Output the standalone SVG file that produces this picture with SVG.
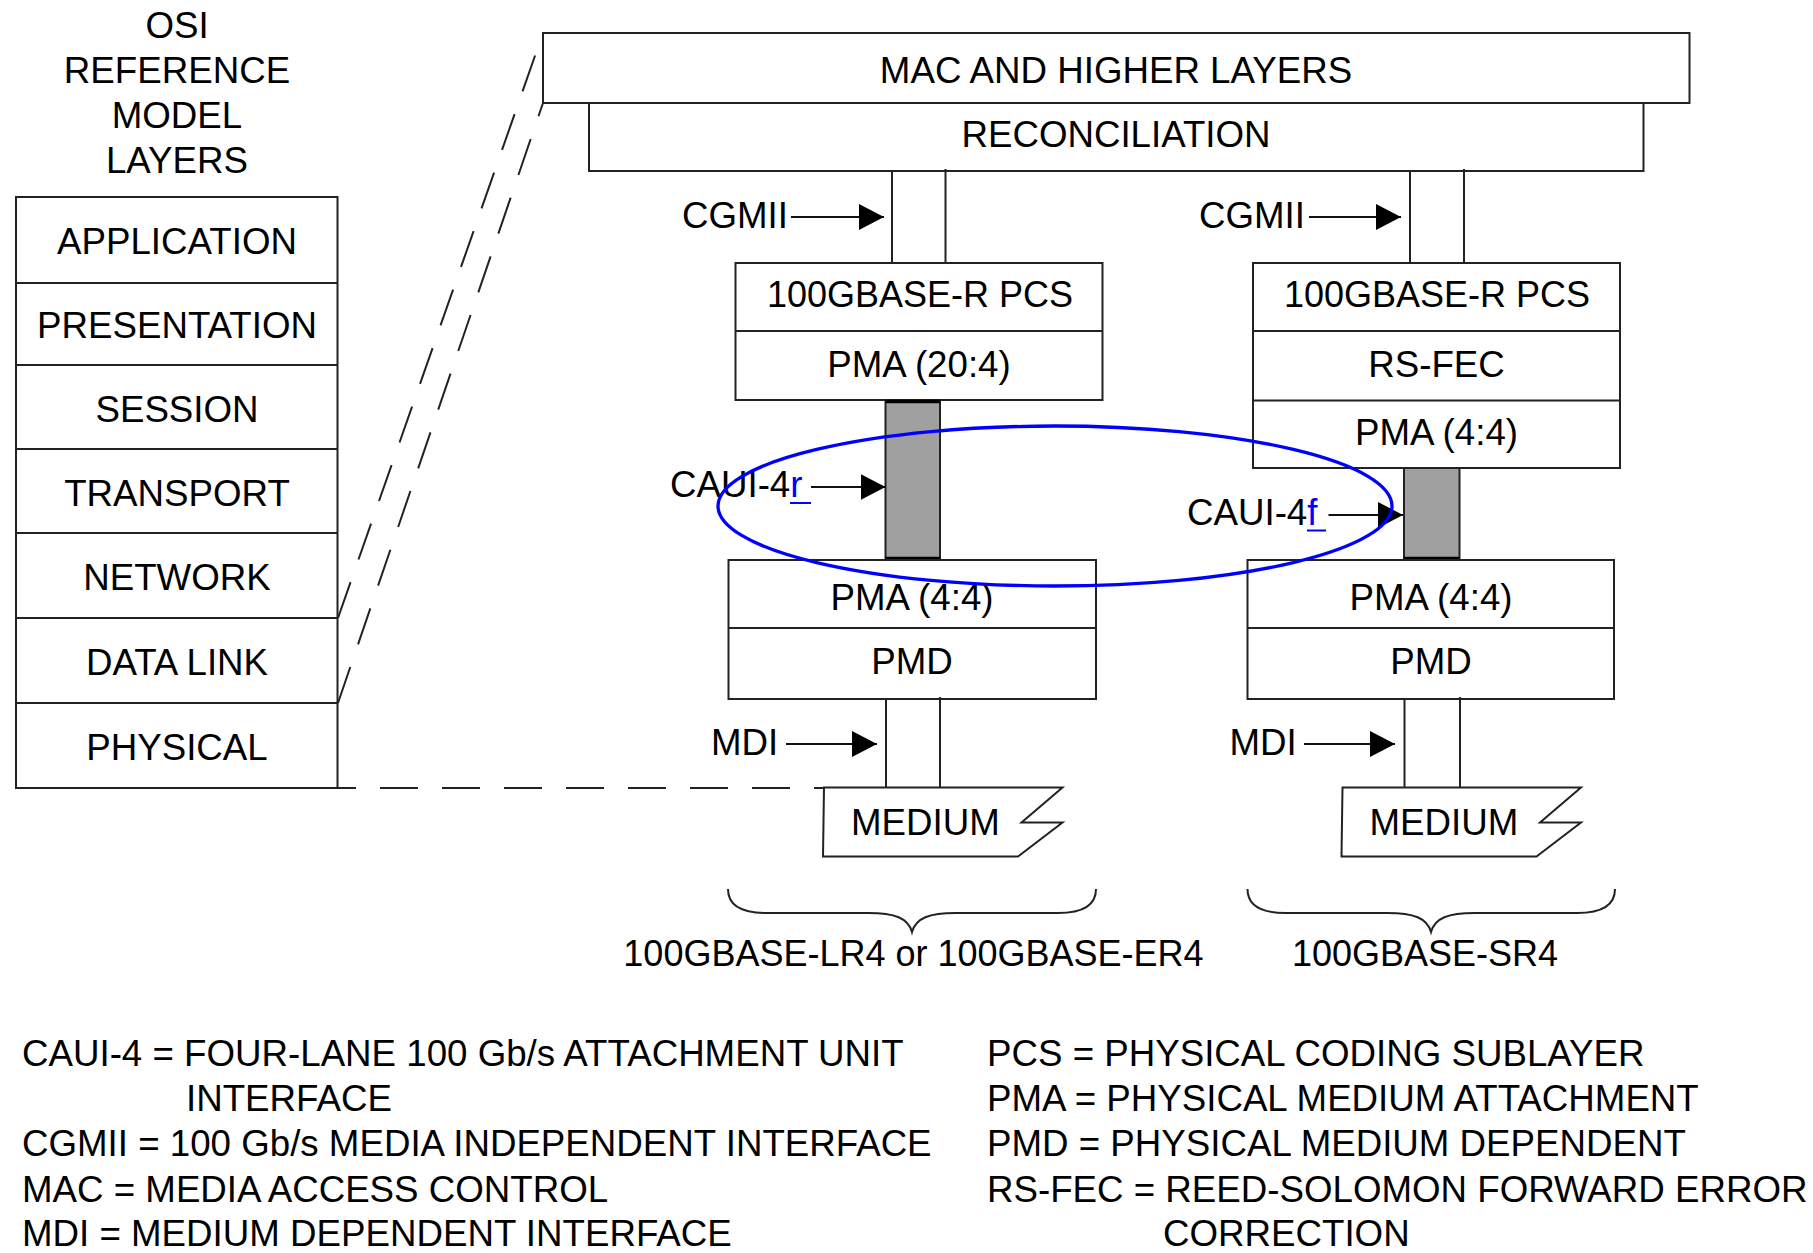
<svg xmlns="http://www.w3.org/2000/svg" width="1813" height="1253" viewBox="0 0 1813 1253">
<style>
text{font-family:"Liberation Sans",Arial,Helvetica,sans-serif;font-size:36.7px;fill:#000}
.c{text-anchor:middle}
.n{font-size:36px}
.box{fill:none;stroke:#222;stroke-width:2}
.ln{stroke:#222;stroke-width:2;fill:none}
.dash{stroke:#222;stroke-width:2;fill:none;stroke-dasharray:38 24}
.gray{fill:#a0a0a0;stroke:#222;stroke-width:2}
.edge{stroke:#000;stroke-width:3.5}
.arr{stroke:#111;stroke-width:2;fill:none;marker-end:url(#ah)}
.link{fill:#0000ff}
.ul{stroke:#0000ff;stroke-width:2}
</style>
<defs>
<marker id="ah" markerUnits="userSpaceOnUse" markerWidth="25" markerHeight="26" refX="25" refY="13" orient="auto">
<path d="M0,0 L25,13 L0,26 Z" fill="#000"/>
</marker>
</defs>
<rect width="1813" height="1253" fill="#fff"/>

<g id="osi-title">
<text class="c" x="177" y="38">OSI</text>
<text class="c" x="177" y="83">REFERENCE</text>
<text class="c" x="177" y="128">MODEL</text>
<text class="c" x="177" y="173">LAYERS</text>
</g>

<g id="osi-stack">
<rect class="box" x="16" y="197" width="321.5" height="591"/>
<line class="ln" x1="16" y1="283" x2="337.5" y2="283"/>
<line class="ln" x1="16" y1="365" x2="337.5" y2="365"/>
<line class="ln" x1="16" y1="449" x2="337.5" y2="449"/>
<line class="ln" x1="16" y1="533" x2="337.5" y2="533"/>
<line class="ln" x1="16" y1="618" x2="337.5" y2="618"/>
<line class="ln" x1="16" y1="703" x2="337.5" y2="703"/>
<text class="c" x="177" y="254">APPLICATION</text>
<text class="c" x="177" y="338">PRESENTATION</text>
<text class="c" x="177" y="422">SESSION</text>
<text class="c" x="177" y="506">TRANSPORT</text>
<text class="c" x="177" y="590">NETWORK</text>
<text class="c" x="177" y="675">DATA LINK</text>
<text class="c" x="177" y="760">PHYSICAL</text>
</g>

<g id="mac">
<rect class="box" x="543" y="33" width="1146.5" height="70"/>
<text class="c" x="1116" y="83">MAC AND HIGHER LAYERS</text>
</g>

<g id="reconciliation">
<rect class="box" x="589" y="103" width="1054.5" height="68"/>
<text class="c" x="1116" y="147">RECONCILIATION</text>
</g>

<g id="left-pcs">
<rect class="box" x="735.5" y="263" width="367" height="137"/>
<line class="ln" x1="735.5" y1="331" x2="1102.5" y2="331"/>
<text class="c n" x="920" y="307">100GBASE-R PCS</text>
<text class="c" x="919" y="377">PMA (20:4)</text>
</g>

<g id="right-pcs">
<rect class="box" x="1253" y="263" width="367" height="205"/>
<line class="ln" x1="1253" y1="331" x2="1620" y2="331"/>
<line class="ln" x1="1253" y1="400.5" x2="1620" y2="400.5"/>
<text class="c n" x="1437" y="307">100GBASE-R PCS</text>
<text class="c" x="1436.5" y="377">RS-FEC</text>
<text class="c" x="1436.5" y="445">PMA (4:4)</text>
</g>

<g id="caui-4r">
<rect class="gray" x="885.5" y="400" width="54.5" height="160"/>
<line class="edge" x1="885.5" y1="401.5" x2="940" y2="401.5"/>
<line class="edge" x1="885.5" y1="558.5" x2="940" y2="558.5"/>
</g>

<g id="caui-4f">
<rect class="gray" x="1404" y="468" width="55.5" height="92"/>
<line class="edge" x1="1404" y1="558.5" x2="1459.5" y2="558.5"/>
</g>

<g id="left-pmd">
<rect class="box" x="728.5" y="560" width="367.5" height="139"/>
<line class="ln" x1="728.5" y1="628" x2="1096" y2="628"/>
<text class="c" x="912" y="610">PMA (4:4)</text>
<text class="c" x="912" y="674">PMD</text>
</g>

<g id="right-pmd">
<rect class="box" x="1247.5" y="560" width="366.5" height="139"/>
<line class="ln" x1="1247.5" y1="628" x2="1614" y2="628"/>
<text class="c" x="1431" y="610">PMA (4:4)</text>
<text class="c" x="1431" y="674">PMD</text>
</g>

<g id="left-medium">
<path class="box" d="M824,787.5 L1062.5,787.5 L1021.5,822.5 L1062.5,822.5 L1018,856.5 L823,856.5 Z"/>
<text x="851" y="835">MEDIUM</text>
</g>

<g id="right-medium">
<path class="box" d="M1342.5,787.5 L1581,787.5 L1540,822.5 L1581,822.5 L1536.5,856.5 L1341.5,856.5 Z"/>
<text x="1369.5" y="835">MEDIUM</text>
</g>

<g id="connectors">
<line class="dash" x1="338" y1="618" x2="543" y2="33"/>
<line class="dash" x1="338" y1="703" x2="543" y2="103"/>
<line class="dash" x1="338" y1="788" x2="824" y2="788" stroke-dashoffset="20"/>
<line class="ln" x1="892" y1="171" x2="892" y2="263"/>
<line class="ln" x1="945.5" y1="169" x2="945.5" y2="263"/>
<line class="ln" x1="1410" y1="171" x2="1410" y2="263"/>
<line class="ln" x1="1464" y1="169" x2="1464" y2="263"/>
<line class="ln" x1="886" y1="699" x2="886" y2="787"/>
<line class="ln" x1="940" y1="697" x2="940" y2="787"/>
<line class="ln" x1="1404.5" y1="699" x2="1404.5" y2="787"/>
<line class="ln" x1="1460" y1="697" x2="1460" y2="787"/>
<line class="arr" x1="791" y1="217" x2="884" y2="217"/>
<line class="arr" x1="1309" y1="217" x2="1401" y2="217"/>
<line class="arr" x1="811" y1="487" x2="885.5" y2="487"/>
<line class="arr" x1="1328.5" y1="515" x2="1403" y2="515"/>
<line class="arr" x1="786" y1="744" x2="877" y2="744"/>
<line class="arr" x1="1304" y1="744" x2="1395" y2="744"/>
</g>

<g id="labels">
<text x="682" y="228">CGMII</text>
<text x="1199" y="228">CGMII</text>
<text x="670" y="497">CAUI-4<tspan class="link">r</tspan></text>
<line class="ul" x1="790" y1="503" x2="811" y2="503"/>
<text x="1187" y="525">CAUI-4<tspan class="link">f</tspan></text>
<line class="ul" x1="1307" y1="530.5" x2="1326" y2="530.5"/>
<text x="711" y="755">MDI</text>
<text x="1229.5" y="755">MDI</text>
</g>

<g id="braces">
<path class="ln" d="M728,889 C728,905 740,913 766,913 L868,913 C895,913 908,918 912,932 C916,918 929,913 956,913 L1058,913 C1084,913 1096,905 1096,889"/>
<path class="ln" d="M1247.5,889 C1247.5,905 1259.5,913 1285.5,913 L1387,913 C1414,913 1427,918 1431,932 C1435,918 1448,913 1475,913 L1577,913 C1603,913 1615,905 1615,889"/>
<text class="c n" x="913.5" y="966">100GBASE-LR4 or 100GBASE-ER4</text>
<text class="c n" x="1425" y="966">100GBASE-SR4</text>
</g>

<g id="legend">
<text x="22" y="1066">CAUI-4 = FOUR-LANE 100 Gb/s ATTACHMENT UNIT</text>
<text x="186" y="1111">INTERFACE</text>
<text x="22" y="1156">CGMII = 100 Gb/s MEDIA INDEPENDENT INTERFACE</text>
<text x="22" y="1202">MAC = MEDIA ACCESS CONTROL</text>
<text x="22" y="1246">MDI = MEDIUM DEPENDENT INTERFACE</text>
<text x="987" y="1066">PCS = PHYSICAL CODING SUBLAYER</text>
<text x="987" y="1111">PMA = PHYSICAL MEDIUM ATTACHMENT</text>
<text x="987" y="1156">PMD = PHYSICAL MEDIUM DEPENDENT</text>
<text x="987" y="1202">RS-FEC = REED-SOLOMON FORWARD ERROR</text>
<text x="1163" y="1246">CORRECTION</text>
</g>

<g id="highlight">
<ellipse cx="1055" cy="506" rx="337" ry="80" fill="none" stroke="#0000ff" stroke-width="3.3"/>
</g>
</svg>
